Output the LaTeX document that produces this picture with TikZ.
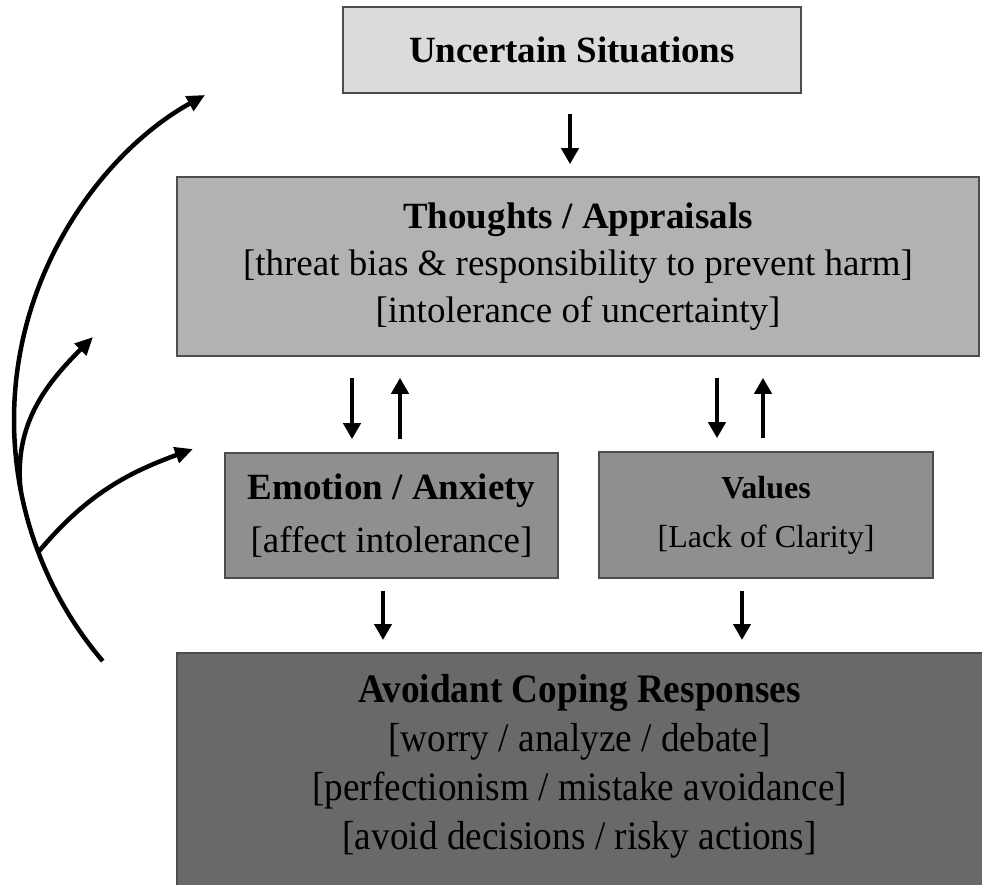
\documentclass[tikz,border=0pt]{standalone}
\usepackage{fontspec}
\setmainfont{Liberation Serif}
\newfontfamily\etroite[FakeStretch=0.92]{Liberation Serif}
\usetikzlibrary{positioning,arrows.meta}

\begin{document}
\begin{tikzpicture}[x=1pt,y=1pt,
  boite/.style={draw=black!70,line width=1.6pt,inner sep=0pt,align=center},
  fleche/.style={-{Triangle[length=16pt,width=17pt]},line width=4.5pt},
  retour/.style={-{Triangle[length=18pt,width=16pt]},line width=4.5pt}]

% Cadre
\useasboundingbox (0,0) rectangle (982,884);
\clip (0,0) rectangle (982,884);

% Boites
\node[boite,fill=black!14,minimum width=458pt,minimum height=86pt,
  font=\fontsize{37}{47}\selectfont\bfseries] (sit) at (572,834) {Uncertain Situations};

\node[boite,fill=black!30,minimum width=802pt,minimum height=179pt,
  font=\fontsize{37}{47}\selectfont] (pensees) at (578,617.5)
  {\textbf{Thoughts / Appraisals}\\{[}threat bias \& responsibility to prevent harm]\\{[}intolerance of uncertainty]};

\node[boite,fill=black!44,minimum width=333pt,minimum height=125pt,
  font=\fontsize{37}{53}\selectfont] (emotion) at (391.5,368.5)
  {\textbf{Emotion / Anxiety}\\{[}affect intolerance]};

\node[boite,fill=black!44,minimum width=334pt,minimum height=126pt,
  font=\fontsize{32}{49}\selectfont] (valeurs) at (766,369)
  {\textbf{Values}\\{[}Lack of Clarity]};

% Boite du bas (coupee par le cadre)
\node[boite,fill=black!59,minimum width=813pt,minimum height=260pt,anchor=north] (evit) at (583.5,232) {};
\node[align=center,font=\etroite\fontsize{40.5}{49}\selectfont] (evittxt) at (579.5,118)
  {\textbf{Avoidant Coping Responses}\\{[}worry / analyze / debate]\\{[}perfectionism / mistake avoidance]\\{[}avoid decisions / risky actions]};

% Fleches droites
\coordinate (c1) at (570,0);
\coordinate (c2) at (352,0);
\coordinate (c3) at (400,0);
\coordinate (c4) at (717,0);
\coordinate (c5) at (763,0);
\coordinate (c6) at (383,0);
\coordinate (c7) at (742,0);

\draw[fleche,shorten <=20pt,shorten >=12pt] (sit.south -| c1) -- (pensees.north -| c1);
\draw[fleche,shorten <=21pt,shorten >=13pt] (pensees.south -| c2) -- (emotion.north -| c2);
\draw[fleche,shorten <=13pt,shorten >=21pt] (emotion.north -| c3) -- (pensees.south -| c3);
\draw[fleche,shorten <=21pt,shorten >=13pt] (pensees.south -| c4) -- (valeurs.north -| c4);
\draw[fleche,shorten <=13pt,shorten >=21pt] (valeurs.north -| c5) -- (pensees.south -| c5);
\draw[fleche,shorten <=12pt,shorten >=12pt] (emotion.south -| c6) -- (evit.north -| c6);
\draw[fleche,shorten <=12pt,shorten >=12pt] (valeurs.south -| c7) -- (evit.north -| c7);

% Fleches courbes a gauche
\coordinate (depart) at ({386+372*cos(220.4)},{464+372*sin(220.4)});
\coordinate (fourche) at ({386+372*cos(200.8)},{464+372*sin(200.8)});
\coordinate (fourcheB) at ({386+372*cos(190.8)},{464+372*sin(190.8)});
\coordinate (pointeB) at (93,547);
\coordinate (pointeC) at (193,435);

\draw[retour] (depart) arc[start angle=220.4,end angle=119.1,radius=372pt];
\draw[retour] (fourcheB) to[out=96,in=225] (pointeB);
\draw[retour] (fourche) to[out=50,in=200] (pointeC);

\end{tikzpicture}
\end{document}
